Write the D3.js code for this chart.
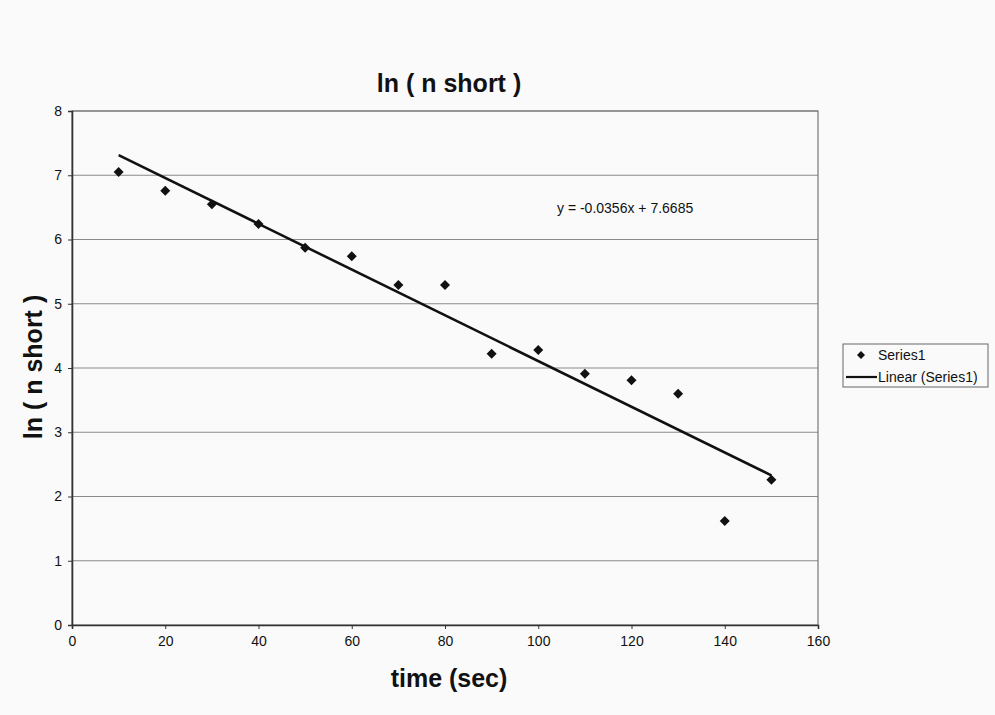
<!DOCTYPE html>
<html><head><meta charset="utf-8">
<script src="https://cdn.jsdelivr.net/npm/d3@7/dist/d3.min.js"></script>
<style>
body{margin:0;background:#fafafa;}
text{font-family:"Liberation Sans",Arial,sans-serif;}
</style></head>
<body>
<svg id="chart" width="995" height="715"></svg>
<script>
const timeSec = [10,20,30,40,50,60,70,80,90,100,110,120,130,140,150];
const lnNShort = [7.05,6.76,6.55,6.24,5.87,5.74,5.29,5.29,4.22,4.28,3.91,3.81,3.60,1.62,2.26];
const xTicks = [0,20,40,60,80,100,120,140,160];
const yTicks = [0,1,2,3,4,5,6,7,8];
const slope = -0.0356, intercept = 7.6685;
const trendX = [10,150];
const titleText = "ln ( n short )";
const xLabel = "time (sec)";
const yLabel = "ln ( n short )";
const eqText = "y = -0.0356x + 7.6685";
const legendItems = ["Series1","Linear (Series1)"];

const svg = d3.select("#chart");
const L=72, R=818, T=111, B=625;
const x = d3.scaleLinear().domain([0,160]).range([L,R]);
const y = d3.scaleLinear().domain([0,8]).range([B,T]);

// gridlines
svg.append("g").selectAll("line").data(yTicks.filter(d=>d>0)).join("line")
  .attr("x1",L).attr("x2",R).attr("y1",d=>y(d)).attr("y2",d=>y(d))
  .attr("stroke","#8a8a8a").attr("stroke-width",1.2);
// plot border
svg.append("rect").attr("x",L).attr("y",T).attr("width",R-L).attr("height",B-T)
  .attr("fill","none").attr("stroke","#777").attr("stroke-width",1.2);

// axes
const xAxis = svg.append("g").attr("transform",`translate(0,${B})`)
  .call(d3.axisBottom(x).tickValues(xTicks).tickSize(4).tickPadding(7));
const yAxis = svg.append("g").attr("transform",`translate(${L},0)`)
  .call(d3.axisLeft(y).tickValues(yTicks).tickSize(4).tickPadding(6));
[xAxis,yAxis].forEach(a=>{
  a.select(".domain").attr("stroke","#333").attr("stroke-width",1.6);
  a.selectAll(".tick line").attr("stroke","#333");
  a.selectAll(".tick text").attr("font-size",14).attr("fill","#111")
   .style("font-family","'Liberation Sans',Arial,sans-serif");
});

// trend line
svg.append("path").datum(trendX)
  .attr("d",d3.line().x(d=>x(d)).y(d=>y(slope*d+intercept)))
  .attr("stroke","#111").attr("stroke-width",2.6).attr("fill","none");

// points (square diamonds)
const dia = "M0,-5L5,0L0,5L-5,0Z";
svg.append("g").selectAll("path").data(timeSec).join("path")
  .attr("d",dia)
  .attr("transform",(d,i)=>`translate(${x(d)},${y(lnNShort[i])})`)
  .attr("fill","#111");

// equation
svg.append("text").attr("x",557).attr("y",213).attr("font-size",14).attr("fill","#111").text(eqText);

// title and labels
svg.append("text").attr("x",449).attr("y",92).attr("text-anchor","middle")
  .attr("font-size",25).attr("font-weight","bold").attr("fill","#111").text(titleText);
svg.append("text").attr("x",449).attr("y",687).attr("text-anchor","middle")
  .attr("font-size",25).attr("font-weight","bold").attr("fill","#111").text(xLabel);
svg.append("text").attr("transform",`translate(42,367) rotate(-90)`).attr("text-anchor","middle")
  .attr("font-size",25).attr("font-weight","bold").attr("fill","#111").text(yLabel);

// legend
const lg = svg.append("g");
lg.append("rect").attr("x",843).attr("y",344).attr("width",145).attr("height",43)
  .attr("fill","#fafafa").attr("stroke","#666").attr("stroke-width",1);
lg.append("path").attr("d","M0,-4L4,0L0,4L-4,0Z").attr("transform","translate(861,355)").attr("fill","#111");
lg.append("line").attr("x1",846).attr("x2",877).attr("y1",377).attr("y2",377)
  .attr("stroke","#111").attr("stroke-width",2.2);
lg.selectAll("text").data(legendItems).join("text")
  .attr("x",878).attr("y",(d,i)=>360+i*22).attr("font-size",14).attr("fill","#111").text(d=>d);
</script>
</body></html>
